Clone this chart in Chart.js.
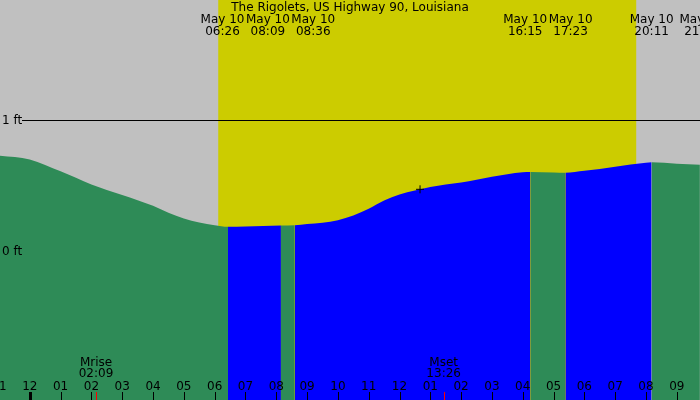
<!DOCTYPE html>
<html>
<head>
<meta charset="utf-8">
<script src="https://cdn.jsdelivr.net/npm/chart.js@4.4.1/dist/chart.umd.min.js"></script>
<style>
  html, body { margin: 0; padding: 0; background: #c0c0c0; }
  #wrap { width: 700px; height: 400px; }
</style>
</head>
<body>
<div id="wrap"><canvas id="c" width="700" height="400"></canvas></div>
<script>
// ---- Data (minutes from midnight May 10, tide height in ft) ----
const title = "The Rigolets, US Highway 90, Louisiana";
const tideMinutes = [-58, 0, 60, 120, 180, 240, 270, 300, 330, 360, 386, 420, 489, 516, 540, 570, 600, 630, 660, 690, 720, 750, 780, 810, 840, 900, 960, 975, 1020, 1043, 1080, 1140, 1200, 1211, 1260, 1305];
const tideFeet    = [0.728, 0.700, 0.608, 0.508, 0.426, 0.343, 0.290, 0.245, 0.215, 0.194, 0.182, 0.185, 0.193, 0.195, 0.204, 0.214, 0.233, 0.269, 0.321, 0.385, 0.430, 0.461, 0.488, 0.507, 0.523, 0.567, 0.601, 0.603, 0.600, 0.598, 0.612, 0.644, 0.674, 0.677, 0.667, 0.659];
const eventLabels = ["06:26", "08:09", "08:36", "16:15", "17:23", "20:11", "21:48"];
const eventDate = "May 10";
const blueStart = ["06:26", "08:36", "17:23"];
const blueEnd   = ["08:09", "16:15", "20:11"];
const sunrise = "06:07";
const sunset  = "19:41";
const moonLabels = ["Mrise", "Mset"];
const moonTimes  = ["02:09", "13:26"];
const hourTicks  = [-1, 0, 1, 2, 3, 4, 5, 6, 7, 8, 9, 10, 11, 12, 13, 14, 15, 16, 17, 18, 19, 20, 21];
const hourLabels = ["11", "12", "01", "02", "03", "04", "05", "06", "07", "08", "09", "10", "11", "12", "01", "02", "03", "04", "05", "06", "07", "08", "09"];
const yLabelValues = [1, 0];
const yLabels = ["1 ft", "0 ft"];
const nowTime = "12:40";
const nowFeet = 0.470;

// ---- helpers ----
const toMin = s => { const [h, m] = s.split(":").map(Number); return h * 60 + m; };
const blueRanges = blueStart.map((s, i) => [toMin(s), toMin(blueEnd[i])]);
const inBlue = m => blueRanges.some(([a, b]) => m > a && m < b);

const FONT = "12px 'DejaVu Sans'";
const GREY = "#c0c0c0", YELLOW = "#cccc00", GREEN = "#2e8b57", BLUE = "#0000ff";

const bgPlugin = {
  id: "bg",
  beforeDraw(chart) {
    const {ctx, chartArea: a, scales: {x}} = chart;
    ctx.save();
    ctx.fillStyle = GREY;
    ctx.fillRect(0, 0, chart.width, chart.height);
    const x0 = x.getPixelForValue(toMin(sunrise));
    const x1 = x.getPixelForValue(toMin(sunset));
    ctx.fillStyle = YELLOW;
    ctx.fillRect(x0, 0, x1 - x0, chart.height);
    ctx.restore();
  }
};

const textPlugin = {
  id: "texts",
  afterDatasetsDraw(chart) {
    const {ctx, scales: {x, y}} = chart;
    ctx.save();
    ctx.font = FONT;
    ctx.fillStyle = "#000";
    ctx.textAlign = "center";
    ctx.textBaseline = "alphabetic";
    // title
    ctx.fillText(title, chart.width / 2, 11);

    // y reference lines / labels
    yLabelValues.forEach((v, i) => {
      const py = y.getPixelForValue(v);
      ctx.textAlign = "left";
      ctx.fillText(yLabels[i], 2, py + 4);
      if (v === 1) {
        ctx.strokeStyle = "#000";
        ctx.lineWidth = 1;
        ctx.beginPath();
        ctx.moveTo(22, Math.round(py) + 0.5);
        ctx.lineTo(chart.width, Math.round(py) + 0.5);
        ctx.stroke();
      }
    });

    // top event labels, spread apart when overlapping
    ctx.textAlign = "center";
    const spacing = ctx.measureText(eventDate).width + 1.5;
    let groups = eventLabels.map(t => ({xs: [x.getPixelForValue(toMin(t))], labels: [t]}));
    const center = g => g.xs.reduce((s, v) => s + v, 0) / g.xs.length;
    const pos = g => g.xs.map((_, i) => center(g) + (i - (g.xs.length - 1) / 2) * spacing);
    let merged = true;
    while (merged) {
      merged = false;
      for (let i = 0; i < groups.length - 1; i++) {
        const pa = pos(groups[i]), pb = pos(groups[i + 1]);
        if (pb[0] - pa[pa.length - 1] < spacing) {
          groups[i] = {xs: groups[i].xs.concat(groups[i + 1].xs), labels: groups[i].labels.concat(groups[i + 1].labels)};
          groups.splice(i + 1, 1);
          merged = true;
          break;
        }
      }
    }
    groups.forEach(g => {
      pos(g).forEach((px, i) => {
        ctx.fillText(eventDate, px, 23);
        ctx.fillText(g.labels[i], px, 35);
      });
    });

    // hour ticks + labels
    hourTicks.forEach((h, i) => {
      const px = x.getPixelForValue(h * 60);
      ctx.fillStyle = "#000";
      if (h === 0) {
        ctx.fillRect(Math.round(px) - 1, 392, 3, 8);
      } else {
        ctx.fillRect(Math.round(px), 392, 1, 8);
      }
      ctx.fillText(hourLabels[i], px, 390);
    });

    // moon events
    moonTimes.forEach((t, i) => {
      const px = x.getPixelForValue(toMin(t));
      ctx.fillStyle = "#ff0000";
      ctx.fillRect(Math.round(px), 392, 1, 8);
      ctx.fillStyle = "#000";
      ctx.fillText(moonLabels[i], px, 366);
      ctx.fillText(t, px, 377);
    });
    ctx.restore();
  }
};

new Chart(document.getElementById("c"), {
  type: "line",
  data: {
    datasets: [
      {
        label: "now",
        data: [{x: toMin(nowTime), y: nowFeet}],
        showLine: false,
        pointStyle: "cross",
        pointRadius: 4,
        borderColor: "#000",
        borderWidth: 1,
        fill: false,
        order: 0
      },
      {
        label: "tide",
        data: tideMinutes.map((m, i) => ({x: m, y: tideFeet[i]})),
        borderWidth: 0,
        borderColor: "rgba(0,0,0,0)",
        pointRadius: 0,
        cubicInterpolationMode: "monotone",
        fill: "start",
        backgroundColor: GREEN,
        segment: {
          backgroundColor: c => inBlue((c.p0.parsed.x + c.p1.parsed.x) / 2) ? BLUE : GREEN
        },
        order: 1
      }
    ]
  },
  options: {
    responsive: false,
    animation: false,
    devicePixelRatio: 1,
    layout: {padding: 0, autoPadding: false},
    plugins: {legend: {display: false}, tooltip: {enabled: false}, title: {display: false}},
    scales: {
      x: {type: "linear", min: -58, max: 1305.2, display: false},
      y: {type: "linear", min: -1.148, max: 1.924, display: false}
    }
  },
  plugins: [bgPlugin, textPlugin]
});
</script>
</body>
</html>
